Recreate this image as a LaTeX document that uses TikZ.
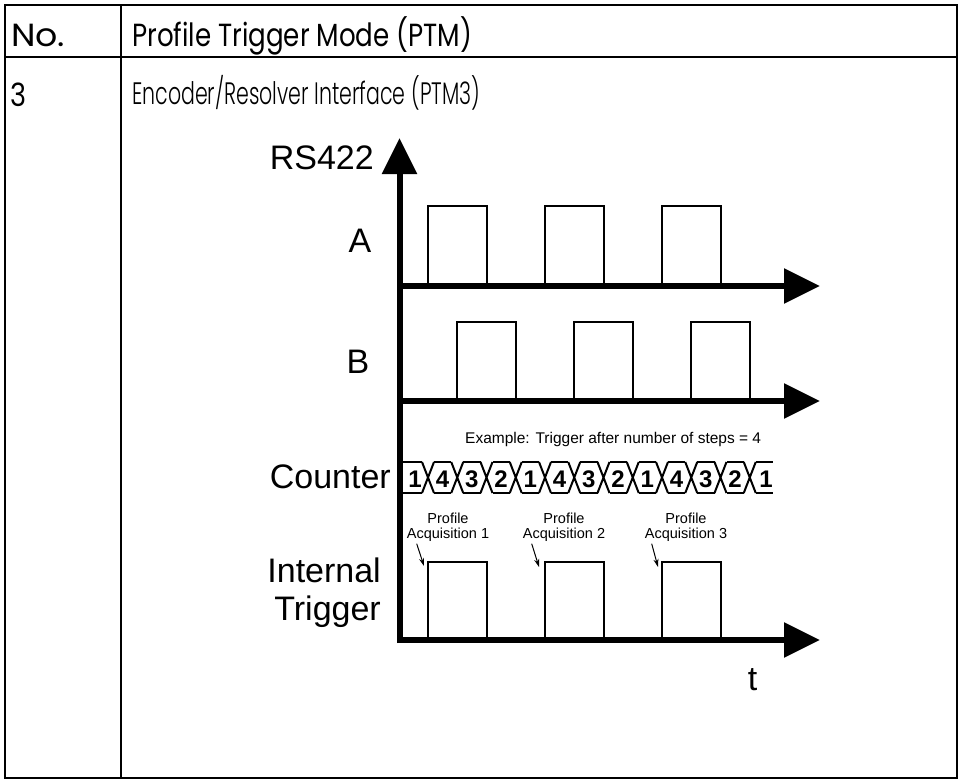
\documentclass[tikz,border=0pt]{standalone}
\usepackage{fontspec}
\setmainfont{Liberation Sans}
\newfontfamily\futura{Poppins}
\newfontfamily\futlight{Poppins Light}
\usetikzlibrary{arrows.meta}

\begin{document}
\begin{tikzpicture}[x=1pt,y=-1pt,
    axis/.style={line width=6pt,-{Triangle[length=36pt,width=34pt]}},
    pulse/.style={line width=2pt},
    marker/.style={line width=1pt,-{Stealth[length=8pt,width=5pt]}},
    big/.style={inner sep=0pt,font=\fontsize{34}{38}\selectfont},
    small/.style={inner sep=0pt,align=center,font=\fontsize{14.5}{15.5}\selectfont},
    digit/.style={inner sep=0pt,anchor=base,font=\fontsize{24}{26}\selectfont\bfseries}]
    \useasboundingbox (0,0) rectangle (962,782);
    % Table frame
    \draw[line width=2pt] (5,5) rectangle (957,778);
    \draw[line width=2pt] (5,57) -- (957,57);
    \draw[line width=2pt] (121,5) -- (121,778);
    % Table header and row
    \node[anchor=base west,inner sep=0pt] (no) at (11,46)
        {\futura\fontsize{32}{36}\selectfont\resizebox{54pt}{\height}{No.}};
    \node[anchor=base west,inner sep=0pt] (ptm) at (132,46)
        {\futura\fontsize{32}{36}\selectfont\resizebox{340pt}{\height}{Profile Trigger Mode (PTM)}};
    \node[anchor=base west,inner sep=0pt] (three) at (10,106)
        {\futura\fontsize{32}{36}\selectfont\resizebox{16pt}{\height}{3}};
    \node[anchor=base west,inner sep=0pt] (ptm3) at (132,104)
        {\futlight\fontsize{31}{34}\selectfont\resizebox{348pt}{\height}{Encoder/Resolver Interface (PTM3)}};
    % Axes
    \draw[axis] (399.5,643) -- (399.5,138);
    \draw[axis] (399.5,286) -- (820,286);
    \draw[axis] (399.5,401) -- (820,401);
    \draw[axis] (399.5,640) -- (820,640);
    % Signal labels
    \node[big,anchor=base east] (rs) at (374,169) {RS422};
    \node[big,anchor=base] (siga) at (360,252) {A};
    \node[big,anchor=base] (sigb) at (358,373) {B};
    \node[big,anchor=base east] (cnt) at (391,488) {Counter};
    \node[big,anchor=base east,align=right] (trig) at (381,620) {Internal\\Trigger};
    \node[big,anchor=base] (time) at (752.5,690) {t};
    % Channel A and B pulses
    \foreach \x in {428,545,662}
        \draw[pulse] (\x,286) -- (\x,206) -- ({\x+58.5},206) -- ({\x+58.5},286);
    \foreach \x in {457.25,574.25,691.25}
        \draw[pulse] (\x,401) -- (\x,322) -- ({\x+58.5},322) -- ({\x+58.5},401);
    % Counter
    \node[inner sep=0pt,anchor=base west,font=\fontsize{15.5}{17}\selectfont] (ex) at (465,443)
        {Example: Trigger after number of steps = 4};
    \foreach \i in {0,...,11} {
        \pgfmathsetmacro\c{428+29.25*\i}
        \draw[pulse] (\c-6,462) -- (\c+6,493) (\c-6,493) -- (\c+6,462);
    }
    \foreach \i in {0,...,10} {
        \pgfmathsetmacro\c{428+29.25*\i}
        \draw[pulse] (\c+6,462) -- (\c+23.25,462) (\c+6,493) -- (\c+23.25,493);
    }
    \draw[pulse] (402.5,462) -- (422,462) (402.5,493) -- (422,493);
    \draw[pulse] (755.75,462) -- (773,462) (755.75,493) -- (773,493);
    \foreach \d/\x [count=\k] in {1/415,4/442.6,3/471.9,2/501.1,1/530.4,4/559.6,3/588.9,
        2/618.1,1/647.4,4/676.6,3/705.9,2/735.1,1/766}
        \node[digit] (cnt\k) at (\x,487) {\d};
    % Internal trigger pulses
    \foreach \x in {428,545,662}
        \draw[pulse] (\x,640) -- (\x,562) -- ({\x+58.5},562) -- ({\x+58.5},640);
    % Acquisition markers
    \node[small] (pa1) at (448,527) {Profile\\Acquisition 1};
    \node[small] (pa2) at (564,527) {Profile\\Acquisition 2};
    \node[small] (pa3) at (686,527) {Profile\\Acquisition 3};
    \coordinate (tr1) at (424,566);
    \coordinate (tr2) at (539,567);
    \coordinate (tr3) at (658,567);
    \draw[marker] ([shift={(10,2)}]pa1.south west) -- (tr1);
    \draw[marker] ([shift={(9,2)}]pa2.south west) -- (tr2);
    \draw[marker] ([shift={(7,2)}]pa3.south west) -- (tr3);
\end{tikzpicture}
\end{document}
